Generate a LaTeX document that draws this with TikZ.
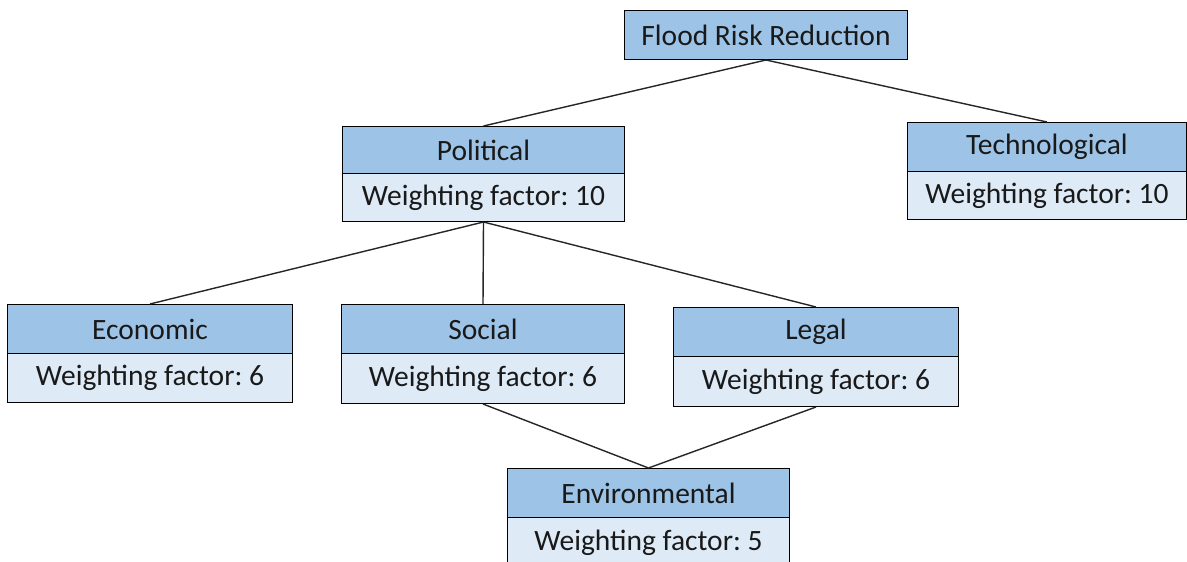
\documentclass[tikz,border=0pt]{standalone}
\usepackage{fontspec}
\setmainfont{Carlito}
\frenchspacing
\definecolor{hdrblue}{HTML}{9DC3E6}
\definecolor{bodyblue}{HTML}{DEEBF7}
\definecolor{edge}{HTML}{262626}
\begin{document}
\begin{tikzpicture}[x=1pt,y=-1pt,
  box/.style={draw=black, line width=1pt, inner sep=0pt, anchor=north west,
    font=\fontsize{29.5}{34}\selectfont, text=black!90},
  hdr/.style={box, fill=hdrblue},
  bdy/.style={box, fill=bodyblue},
  link/.style={draw=edge, line width=1.4pt}]
\clip (0,0) rectangle (1187,562);
\fill[white] (0,0) rectangle (1187,562);

% root
\node[hdr, minimum width=283, minimum height=49] (frr) at (624,10) {Flood Risk Reduction};

% second level
\node[hdr, minimum width=282, minimum height=47] (polH) at (342,126) {Political};
\node[bdy, minimum width=282, minimum height=48] (polB) at (342,173) {Weighting factor: 10};

\node[hdr, minimum width=279, minimum height=49] (tecH) at (907,122) {Technological};
\node[bdy, minimum width=279, minimum height=48] (tecB) at (907,171) {Weighting factor: 10};

% third level
\node[hdr, minimum width=285, minimum height=49] (ecoH) at (7,304) {Economic};
\node[bdy, minimum width=285, minimum height=49] (ecoB) at (7,353) {Weighting factor: 6};

\node[hdr, minimum width=283, minimum height=49] (socH) at (341,304) {Social};
\node[bdy, minimum width=283, minimum height=50] (socB) at (341,353) {Weighting factor: 6};

\node[hdr, minimum width=285, minimum height=49] (legH) at (673,307) {Legal};
\node[bdy, minimum width=285, minimum height=50] (legB) at (673,356) {Weighting factor: 6};

% fourth level
\node[hdr, minimum width=282, minimum height=49] (envH) at (507,468) {Environmental};
\node[bdy, minimum width=282, minimum height=50] (envB) at (507,517) {Weighting factor: 5};

% connectors
\draw[link] (frr.south) -- (polH.north);
\draw[link] (frr.south) -- (tecH.north);
\draw[link] (polB.south) -- (ecoH.north);
\draw[link] (polB.south) -- (socH.north);
\draw[link] (polB.south) -- (legH.north);
\draw[link] (socB.south) -- (envH.north);
\draw[link] (legB.south) -- (envH.north);
\end{tikzpicture}
\end{document}
